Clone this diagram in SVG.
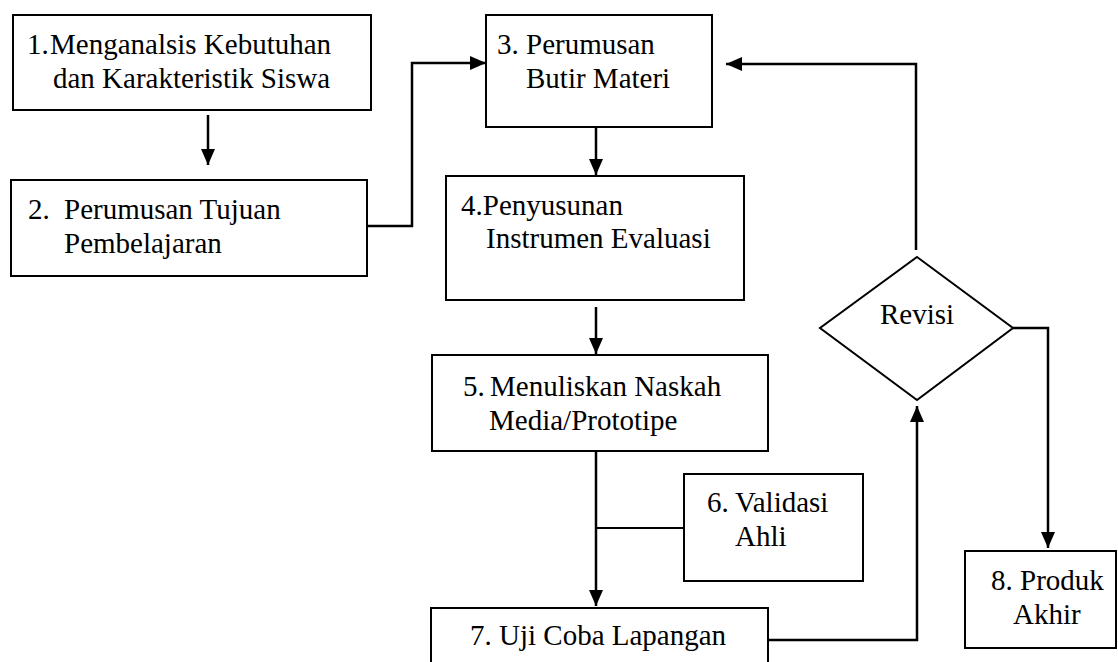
<svg xmlns="http://www.w3.org/2000/svg" width="1118" height="662" viewBox="0 0 1118 662">
<style>
.box{fill:#fff;stroke:#000;stroke-width:2}
.t{font-family:"Liberation Serif","Times New Roman",serif;font-size:29px;fill:#000}
.ln{fill:none;stroke:#000;stroke-width:2}
.ar{fill:none;stroke:#000;stroke-width:2.5;marker-end:url(#ah)}
</style>
<defs>
<marker id="ah" viewBox="0 0 16 14" refX="16" refY="7" markerWidth="16" markerHeight="14" markerUnits="userSpaceOnUse" orient="auto">
<path d="M0,0 L16,7 L0,14 z" fill="#000"/>
</marker>
</defs>
<rect width="1118" height="662" fill="#fff"/>
<g id="connectors">
<path class="ar" d="M208,115 V165"/>
<path class="ar" d="M367,226 H412 V63 H486"/>
<path class="ar" d="M596,127 V175"/>
<path class="ar" d="M596,307 V354"/>
<path class="ar" d="M596,451 V606"/>
<path class="ln" d="M596,528 H684"/>
<path class="ar" d="M768,640 H917 V406"/>
<path class="ar" d="M916,250 V64 H726"/>
<path class="ar" d="M1013,328 H1048 V548"/>
</g>
<g id="n1">
<rect class="box" x="13" y="15" width="358" height="95"/>
<text class="t" y="54"><tspan x="27">1.</tspan><tspan x="50">Menganalsis Kebutuhan</tspan></text>
<text class="t" x="53" y="88">dan Karakteristik Siswa</text>
</g>
<g id="n2">
<rect class="box" x="11" y="180" width="356" height="96"/>
<text class="t" y="219"><tspan x="28">2.</tspan><tspan x="64">Perumusan Tujuan</tspan></text>
<text class="t" x="64" y="253">Pembelajaran</text>
</g>
<g id="n3">
<rect class="box" x="486" y="15" width="226" height="112"/>
<text class="t" y="54"><tspan x="497">3.</tspan><tspan x="526">Perumusan</tspan></text>
<text class="t" x="526" y="88">Butir Materi</text>
</g>
<g id="n4">
<rect class="box" x="446" y="176" width="298" height="124"/>
<text class="t" x="461" y="215">4.Penyusunan</text>
<text class="t" x="486" y="248">Instrumen Evaluasi</text>
</g>
<g id="n5">
<rect class="box" x="432" y="355" width="336" height="96"/>
<text class="t" y="396"><tspan x="463">5.</tspan><tspan x="490">Menuliskan Naskah</tspan></text>
<text class="t" x="489" y="430">Media/Prototipe</text>
</g>
<g id="n6">
<rect class="box" x="684" y="474" width="179" height="107"/>
<text class="t" y="512"><tspan x="707">6.</tspan><tspan x="735">Validasi</tspan></text>
<text class="t" x="735" y="546">Ahli</text>
</g>
<g id="n7">
<path class="box" d="M431,670 V608 H768 V670"/>
<text class="t" x="470" y="645">7. Uji Coba Lapangan</text>
</g>
<g id="n8">
<rect class="box" x="965" y="551" width="151" height="97"/>
<text class="t" x="991" y="590">8. Produk</text>
<text class="t" x="1013" y="624">Akhir</text>
</g>
<g id="revisi">
<polygon class="box" points="917,257 1013,328 917,400 820,328"/>
<text class="t" x="917" y="324" text-anchor="middle">Revisi</text>
</g>
</svg>
